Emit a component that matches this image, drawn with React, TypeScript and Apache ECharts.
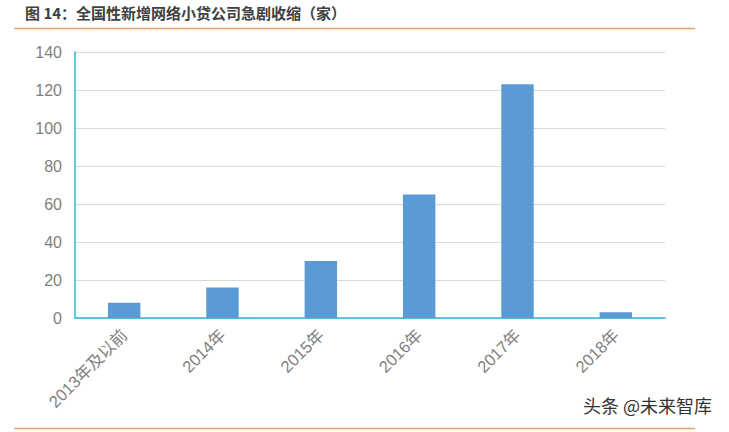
import React, { useEffect, useRef } from "react";
import * as echarts from "echarts";

const title = "图 14：全国性新增网络小贷公司急剧收缩（家）";
const categories = ["2013年及以前", "2014年", "2015年", "2016年", "2017年", "2018年"];
const values = [8, 16, 30, 65, 123, 3];
const yTicks = { min: 0, max: 140, interval: 20 };
const watermark = "头条 @未来智库";

export default function App() {
  const ref = useRef<HTMLDivElement>(null);
  useEffect(() => {
    const chart = echarts.init(ref.current!, null, { renderer: "svg" });
    chart.setOption({
      animation: false,
      backgroundColor: "#ffffff",
      textStyle: { fontFamily: "'Noto Sans CJK SC', 'Liberation Sans', sans-serif" },
      grid: { left: 75, top: 52, right: 64, bottom: 114 },
      xAxis: {
        type: "category",
        data: categories,
        axisLine: { lineStyle: { color: "#2EB4DA", width: 1.5 } },
        axisTick: { show: false },
        axisLabel: {
          rotate: 45,
          interval: 0,
          color: "#808080",
          fontSize: 16.5,
          margin: 14,
          fontFamily: "'Liberation Sans', 'Noto Sans CJK SC', sans-serif",
        },
      },
      yAxis: {
        type: "value",
        min: yTicks.min,
        max: yTicks.max,
        interval: yTicks.interval,
        axisLine: { show: true, lineStyle: { color: "#2EB4DA", width: 1.5 } },
        axisTick: { show: false },
        splitLine: { lineStyle: { color: "#d9d9d9", width: 1 } },
        axisLabel: {
          color: "#7f7f7f",
          fontSize: 16,
          margin: 13,
          fontFamily: "'Liberation Sans', sans-serif",
        },
      },
      series: [
        {
          type: "bar",
          data: values,
          barWidth: "33%",
          itemStyle: { color: "#5B9BD5" },
        },
      ],
      graphic: [
        {
          type: "text",
          left: 25,
          top: 5,
          style: {
            text: title,
            fontSize: 15,
            fontWeight: "bold",
            fill: "#404040",
            fontFamily: "'Noto Sans CJK SC', sans-serif",
          },
        },
        {
          type: "line",
          shape: { x1: 14, y1: 28.5, x2: 695, y2: 28.5 },
          style: { stroke: "#F0A060", lineWidth: 1.5 },
        },
        {
          type: "line",
          shape: { x1: 14, y1: 428.5, x2: 695, y2: 428.5 },
          style: { stroke: "#F0A060", lineWidth: 1.5 },
        },
        {
          type: "text",
          left: 583,
          top: 396,
          style: {
            text: watermark,
            fontSize: 18,
            fill: "#333333",
            fontFamily: "'Noto Sans CJK SC', sans-serif",
          },
        },
      ],
    });
    return () => chart.dispose();
  }, []);
  return <div ref={ref} style={{ width: 729, height: 432, position: "fixed", left: 0, top: 0 }} />;
}
